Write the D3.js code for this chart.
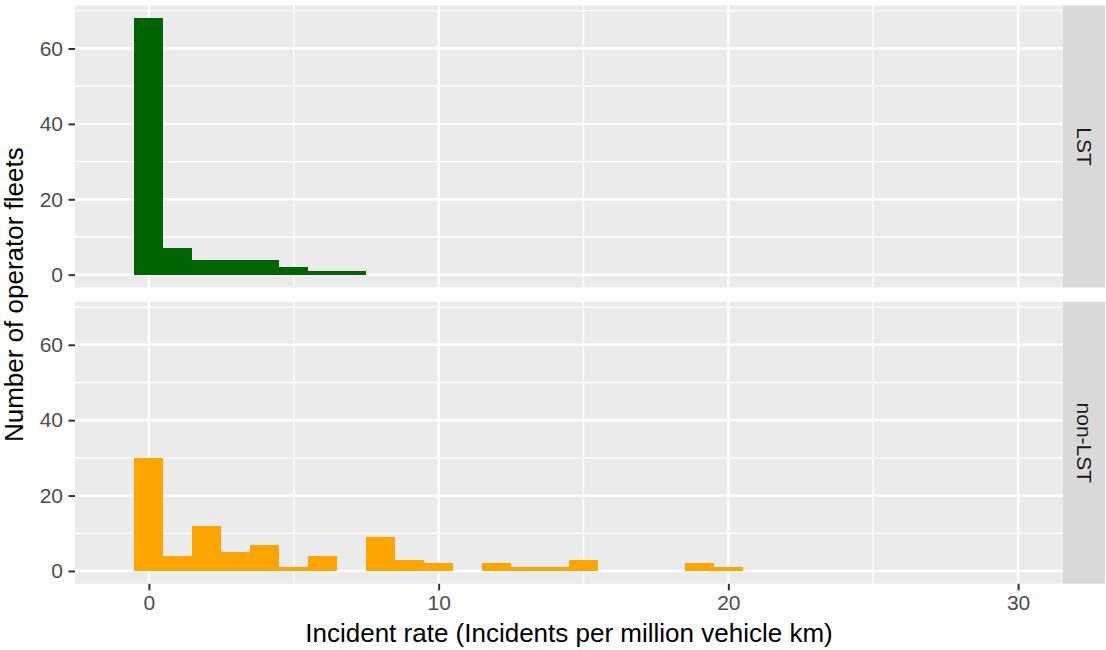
<!DOCTYPE html>
<html>
<head>
<meta charset="utf-8">
<script src="https://cdn.jsdelivr.net/npm/d3@7"></script>
<style>
  body { margin: 0; background: #fff; }
  svg { display: block; font-family: "Liberation Sans", Arial, sans-serif; }
</style>
</head>
<body>
<div id="chart"></div>
<script>
// Histogram bins (binwidth 1, centred on integers)
const binCenters = d3.range(0, 21);
const lstCounts = [68, 7, 4, 4, 4, 2, 1, 1];
const nonLstCounts = [30, 4, 12, 5, 7, 1, 4, 0, 9, 3, 2, 0, 2, 1, 1, 3, 0, 0, 0, 2, 1];

const facets = ['LST', 'non-LST'];
const facetColors = ['#006400', '#FFA500'];
const xTicks = [0, 10, 20, 30];
const xMinorTicks = [5, 15, 25];
const yTicks = [0, 20, 40, 60];
const yMinorTicks = [10, 30, 50, 70];

const width = 1106;
const height = 650;

const panelLeft = 75;
const panelRight = 1063;
const stripWidth = 42;
const panelHeight = 282;
const panelTops = [5.5, 301.8];

const svg = d3.select('#chart')
  .append('svg')
  .attr('width', width)
  .attr('height', height);

// x: data range -1..30 with ggplot's 5% expansion
const x = d3.scaleLinear()
  .domain([-1 - 1.55, 30 + 1.55])
  .range([panelLeft, panelRight]);

// y: 0..68 with 5% expansion
const y = d3.scaleLinear()
  .domain([-3.4, 71.4])
  .range([panelHeight, 0]);

const series = [lstCounts, nonLstCounts].map(counts =>
  counts.map((c, i) => ({ x0: binCenters[i] - 0.5, x1: binCenters[i] + 0.5, count: c }))
);

facets.forEach((name, fi) => {
  const g = svg.append('g')
    .attr('transform', `translate(0, ${panelTops[fi]})`);

  // Panel background
  g.append('rect')
    .attr('x', panelLeft)
    .attr('y', 0)
    .attr('width', panelRight - panelLeft)
    .attr('height', panelHeight)
    .attr('fill', '#EBEBEB');

  // Minor grid
  g.selectAll('.minor-y')
    .data(yMinorTicks)
    .enter()
    .append('line')
    .attr('x1', panelLeft)
    .attr('x2', panelRight)
    .attr('y1', d => y(d))
    .attr('y2', d => y(d))
    .attr('stroke', '#fff')
    .attr('stroke-width', 1.3);

  g.selectAll('.minor-x')
    .data(xMinorTicks)
    .enter()
    .append('line')
    .attr('x1', d => x(d))
    .attr('x2', d => x(d))
    .attr('y1', 0)
    .attr('y2', panelHeight)
    .attr('stroke', '#fff')
    .attr('stroke-width', 1.3);

  // Major grid
  g.selectAll('.major-y')
    .data(yTicks)
    .enter()
    .append('line')
    .attr('x1', panelLeft)
    .attr('x2', panelRight)
    .attr('y1', d => y(d))
    .attr('y2', d => y(d))
    .attr('stroke', '#fff')
    .attr('stroke-width', 2.4);

  g.selectAll('.major-x')
    .data(xTicks)
    .enter()
    .append('line')
    .attr('x1', d => x(d))
    .attr('x2', d => x(d))
    .attr('y1', 0)
    .attr('y2', panelHeight)
    .attr('stroke', '#fff')
    .attr('stroke-width', 2.4);

  // Bars
  g.append('g')
    .attr('shape-rendering', 'crispEdges')
    .selectAll('rect')
    .data(series[fi].filter(d => d.count > 0))
    .enter()
    .append('rect')
    .attr('x', d => x(d.x0))
    .attr('width', d => x(d.x1) - x(d.x0))
    .attr('y', d => y(d.count))
    .attr('height', d => y(0) - y(d.count))
    .attr('fill', facetColors[fi]);

  // Y axis
  const yAxis = g.append('g')
    .attr('transform', `translate(${panelLeft}, 0)`)
    .call(d3.axisLeft(y).tickValues(yTicks).tickSize(6.5).tickPadding(5.5));
  yAxis.select('.domain').remove();
  yAxis.selectAll('line').attr('stroke', '#333').attr('stroke-width', 2);
  yAxis.selectAll('text')
    .attr('fill', '#4D4D4D')
    .style('font-size', '21px')
    .style('font-family', '"Liberation Sans", Arial, sans-serif');

  // Facet strip
  g.append('rect')
    .attr('x', panelRight)
    .attr('y', 0)
    .attr('width', stripWidth)
    .attr('height', panelHeight)
    .attr('fill', '#D9D9D9');

  g.append('text')
    .attr('transform', `translate(${panelRight + stripWidth / 2}, ${panelHeight / 2}) rotate(90)`)
    .attr('text-anchor', 'middle')
    .attr('dy', '0.35em')
    .attr('fill', '#1A1A1A')
    .style('font-size', '21px')
    .text(name);
});

// X axis under the bottom panel
const xAxis = svg.append('g')
  .attr('transform', `translate(0, ${panelTops[1] + panelHeight})`)
  .call(d3.axisBottom(x).tickValues(xTicks).tickSize(6.5).tickPadding(5));
xAxis.select('.domain').remove();
xAxis.selectAll('line').attr('stroke', '#333').attr('stroke-width', 2);
xAxis.selectAll('text')
  .attr('fill', '#4D4D4D')
  .style('font-size', '21px')
  .style('font-family', '"Liberation Sans", Arial, sans-serif');

// Axis titles
svg.append('text')
  .attr('x', (panelLeft + panelRight) / 2)
  .attr('y', 642)
  .attr('text-anchor', 'middle')
  .attr('fill', '#000')
  .style('font-size', '26px')
  .text('Incident rate (Incidents per million vehicle km)');

svg.append('text')
  .attr('transform', `translate(23, ${(panelTops[0] + panelTops[1] + panelHeight) / 2}) rotate(-90)`)
  .attr('text-anchor', 'middle')
  .attr('fill', '#000')
  .style('font-size', '26px')
  .text('Number of operator fleets');
</script>
</body>
</html>
